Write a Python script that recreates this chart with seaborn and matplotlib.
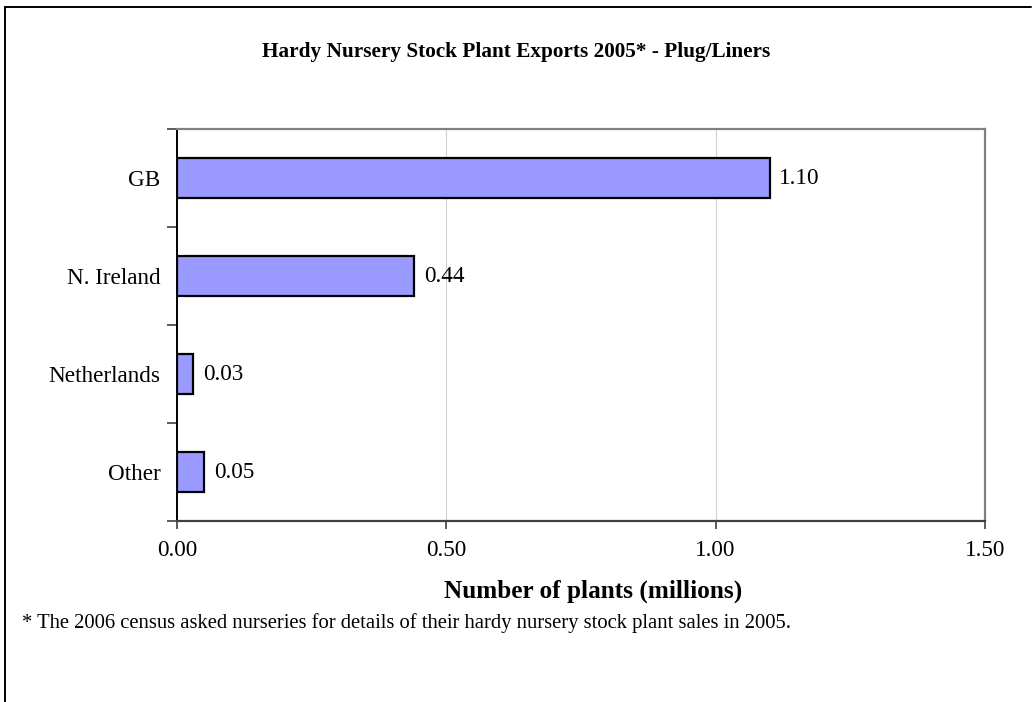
import numpy as np
import pandas as pd
import matplotlib
matplotlib.use("Agg")
import matplotlib.pyplot as plt
from matplotlib.lines import Line2D
from matplotlib.ticker import FixedLocator
import seaborn as sns

# ── data ──────────────────────────────────────────────
destinations = ["GB", "N. Ireland", "Netherlands", "Other"]
plants_millions = [1.10, 0.44, 0.03, 0.05]
x_ticks = [0.0, 0.5, 1.0, 1.5]

df = pd.DataFrame({"dest": destinations, "plants": plants_millions})

sns.set_style("white")
plt.rcParams["font.family"] = ["Liberation Serif", "DejaVu Serif"]
plt.rcParams["text.color"] = "black"
plt.rcParams["xtick.labelcolor"] = "black"
plt.rcParams["ytick.labelcolor"] = "black"
plt.rcParams["axes.labelcolor"] = "black"

fig = plt.figure(figsize=(10.32, 7.02), dpi=100)
ax = fig.add_axes([177 / 1032, 1 - 521 / 702, (985 - 177) / 1032, (521 - 129) / 702])

sns.barplot(data=df, x="plants", y="dest", orient="h", width=0.4,
            color="#9999FF", edgecolor="black", linewidth=1.6,
            saturation=1, ax=ax, zorder=3)

labels = ax.bar_label(ax.containers[0], fmt="%.2f", padding=7, fontsize=16.7)
for t in labels:
    t.set_color("black")

ax.set_xlim(0, 1.5)
ax.set_ylim(3.5, -0.5)
ax.xaxis.set_major_locator(FixedLocator(x_ticks))
ax.set_xticklabels([f"{v:.2f}" for v in x_ticks], fontsize=16.7)
ax.grid(axis="x", color="#d0d0d0", linewidth=0.8, zorder=0)
ax.set_axisbelow(True)

# y: labels at centres, ticks at category boundaries
ax.tick_params(axis="y", which="major", length=0, pad=12, labelsize=16.7)
ax.yaxis.set_minor_locator(FixedLocator(np.arange(-0.5, 4, 1.0)))
ax.tick_params(axis="y", which="minor", length=7, width=1.2, color="#404040",
               direction="out", left=True)
ax.tick_params(axis="x", which="major", length=6, width=1.2, color="#404040",
               direction="out", bottom=True, pad=8)

for side in ["top", "right"]:
    ax.spines[side].set_color("#808080")
    ax.spines[side].set_linewidth(1.6)
ax.spines["left"].set_color("black")
ax.spines["left"].set_linewidth(1.4)
ax.spines["bottom"].set_color("#404040")
ax.spines["bottom"].set_linewidth(1.6)

ax.set_ylabel("")
ax.set_xlabel("Number of plants (millions)", fontsize=18.2, fontweight="bold")
ax.xaxis.set_label_coords((593 - 177) / 808, -(591 - 521) / 392)
ax.xaxis.label.set_va("center")

fig.text(0.5, 1 - 52 / 702, "Hardy Nursery Stock Plant Exports 2005* - Plug/Liners",
         ha="center", va="center", fontsize=15.3, fontweight="bold")
fig.text(22 / 1032, 1 - 623 / 702,
         "* The 2006 census asked nurseries for details of their hardy nursery "
         "stock plant sales in 2005.",
         ha="left", va="center", fontsize=14.9)

# outer chart frame (top + left edges visible)
fig.add_artist(Line2D([5 / 1032, 1031 / 1032], [1 - 7 / 702, 1 - 7 / 702],
                      transform=fig.transFigure, color="black", linewidth=1.4))
fig.add_artist(Line2D([5 / 1032, 5 / 1032], [0, 1 - 7 / 702],
                      transform=fig.transFigure, color="black", linewidth=1.4))

fig.savefig("out.png", dpi=100)
